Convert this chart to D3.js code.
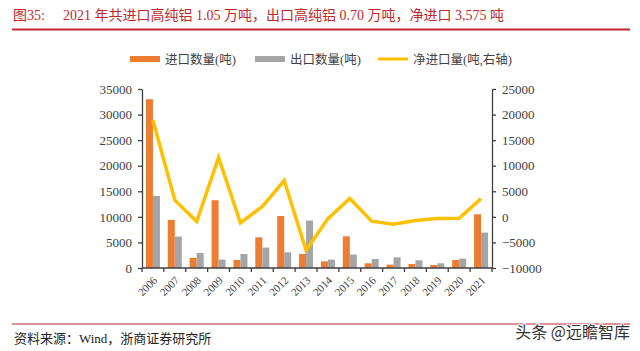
<!DOCTYPE html>
<html lang="zh">
<head>
  <meta charset="utf-8">
  <title>高纯铝进出口</title>
  <script type="text/javascript" src="https://cdn.jsdelivr.net/npm/d3@7"></script>
  <style>
    body { margin: 0; background: #fff; }
    svg { display: block; }
  </style>
</head>
<body>
  <div id="chart"></div>
  <script>
    let years = ["2006", "2007", "2008", "2009", "2010", "2011", "2012", "2013",
                 "2014", "2015", "2016", "2017", "2018", "2019", "2020", "2021"];
    // 进口 / 出口 (吨), left axis
    let imports = [33000, 9400, 2000, 13250, 1560, 6000, 10170, 2740,
                   1300, 6200, 920, 660, 780, 590, 1560, 10500];
    let exports = [14100, 6140, 2930, 1640, 2740, 3990, 3070, 9270,
                   1640, 2620, 1760, 2090, 1500, 920, 1830, 6925];
    // 净进口 (吨), right axis
    let netImports = [18900, 3260, -930, 11600, -1180, 2010, 7100, -6530,
                      -340, 3580, -840, -1430, -720, -330, -270, 3575];
    let leftTicks = [0, 5000, 10000, 15000, 20000, 25000, 30000, 35000];
    let rightTicks = [-10000, -5000, 0, 5000, 10000, 15000, 20000, 25000];
    let legendNames = ["进口数量(吨)", "出口数量(吨)", "净进口量(吨,右轴)"];

    let w = 640;
    let h = 351;
    let plotL = 142, plotR = 492, plotT = 89, plotB = 268;
    let serif = "'Liberation Serif', 'Times New Roman', 'Noto Sans CJK SC', serif";
    let axisColor = "#404040";

    let svg = d3.select("#chart")
      .append("svg")
      .attr("width", w)
      .attr("height", h);

    svg.append("rect").attr("width", w).attr("height", h).attr("fill", "#fff");

    // title
    svg.append("text")
      .attr("x", 13).attr("y", 20)
      .attr("fill", "#c0272d")
      .style("font-family", serif).style("font-size", "14px")
      .text("图35:");
    svg.append("text")
      .attr("x", 63).attr("y", 20)
      .attr("fill", "#c0272d")
      .style("font-family", serif).style("font-size", "14px")
      .text("2021 年共进口高纯铝 1.05 万吨，出口高纯铝 0.70 万吨，净进口 3,575 吨");
    svg.append("line")
      .attr("x1", 12).attr("x2", 630).attr("y1", 29.5).attr("y2", 29.5)
      .attr("stroke", "#c0272d").attr("stroke-width", 2);

    let xScale = d3.scaleBand()
      .domain(years)
      .range([plotL, plotR])
      .padding(0);

    let yLeft = d3.scaleLinear().domain([0, 35000]).range([plotB, plotT]);
    let yRight = d3.scaleLinear().domain([-10000, 25000]).range([plotB, plotT]);

    let bw = 7;

    svg.append("g").selectAll("rect")
      .data(imports)
      .enter()
      .append("rect")
      .attr("x", function(d, i) { return xScale(years[i]) + xScale.bandwidth() / 2 - bw; })
      .attr("y", function(d) { return yLeft(d); })
      .attr("width", bw)
      .attr("height", function(d) { return yLeft(0) - yLeft(d); })
      .attr("fill", "#ED7D31");

    svg.append("g").selectAll("rect")
      .data(exports)
      .enter()
      .append("rect")
      .attr("x", function(d, i) { return xScale(years[i]) + xScale.bandwidth() / 2; })
      .attr("y", function(d) { return yLeft(d); })
      .attr("width", bw)
      .attr("height", function(d) { return yLeft(0) - yLeft(d); })
      .attr("fill", "#A5A5A5");

    let line = d3.line()
      .x(function(d, i) { return xScale(years[i]) + xScale.bandwidth() / 2; })
      .y(function(d) { return yRight(d); });

    svg.append("path")
      .datum(netImports)
      .attr("d", line)
      .attr("fill", "none")
      .attr("stroke", "#FFC000")
      .attr("stroke-width", 3.5)
      .attr("stroke-linejoin", "miter");

    // axes
    let fmt = d3.format("d");
    let gl = svg.append("g")
      .attr("transform", "translate(" + plotL + ",0)")
      .call(d3.axisLeft(yLeft).tickValues(leftTicks).tickFormat(fmt)
        .tickSize(4).tickPadding(6).tickSizeOuter(0));
    let gr = svg.append("g")
      .attr("transform", "translate(" + plotR + ",0)")
      .call(d3.axisRight(yRight).tickValues(rightTicks).tickFormat(fmt)
        .tickSize(4).tickPadding(6).tickSizeOuter(0));
    [gl, gr].forEach(function(g) {
      g.selectAll("path, line").attr("stroke", axisColor).attr("stroke-width", 1.3);
      g.selectAll("text").attr("fill", axisColor)
        .style("font-family", serif).style("font-size", "13px");
    });

    let gx = svg.append("g")
      .attr("transform", "translate(0," + plotB + ")");
    gx.append("line")
      .attr("x1", plotL).attr("x2", plotR)
      .attr("stroke", axisColor).attr("stroke-width", 1.3);
    gx.selectAll(".tick")
      .data(years.concat(["end"]))
      .enter()
      .append("line")
      .attr("x1", function(d) { return d === "end" ? plotR : xScale(d); })
      .attr("x2", function(d) { return d === "end" ? plotR : xScale(d); })
      .attr("y1", 0).attr("y2", 4)
      .attr("stroke", axisColor).attr("stroke-width", 1.3);
    gx.selectAll("text")
      .data(years)
      .enter()
      .append("text")
      .attr("transform", function(d) {
        return "translate(" + (xScale(d) + xScale.bandwidth() / 2 + 5) + ",13) rotate(-45)";
      })
      .attr("text-anchor", "end")
      .attr("fill", axisColor)
      .style("font-family", serif).style("font-size", "11px")
      .text(function(d) { return d; });

    // legend
    let legend = svg.append("g");
    let lx = [130, 255, 378];
    let lcol = ["#ED7D31", "#A5A5A5", "#FFC000"];
    legendNames.forEach(function(name, i) {
      if (i < 2) {
        legend.append("rect")
          .attr("x", lx[i]).attr("y", 56)
          .attr("width", 30).attr("height", 6)
          .attr("fill", lcol[i]);
      } else {
        legend.append("line")
          .attr("x1", lx[i]).attr("x2", lx[i] + 30)
          .attr("y1", 59).attr("y2", 59)
          .attr("stroke", lcol[i]).attr("stroke-width", 3);
      }
      legend.append("text")
        .attr("x", lx[i] + 35).attr("y", 63.5)
        .attr("fill", axisColor)
        .style("font-family", serif).style("font-size", "12.5px")
        .text(name);
    });

    // footer
    svg.append("line")
      .attr("x1", 12).attr("x2", 630).attr("y1", 324).attr("y2", 324)
      .attr("stroke", "#c0272d").attr("stroke-width", 1);
    svg.append("text")
      .attr("x", 14).attr("y", 343)
      .attr("fill", "#222")
      .style("font-family", serif).style("font-size", "13px")
      .text("资料来源：Wind，浙商证券研究所");
    svg.append("text")
      .attr("x", 630).attr("y", 338)
      .attr("text-anchor", "end")
      .attr("fill", "#333")
      .attr("stroke", "#fff").attr("stroke-width", 2).attr("paint-order", "stroke")
      .style("font-family", "'Noto Sans CJK SC', sans-serif").style("font-size", "16px")
      .text("头条 @远瞻智库");
  </script>
</body>
</html>
